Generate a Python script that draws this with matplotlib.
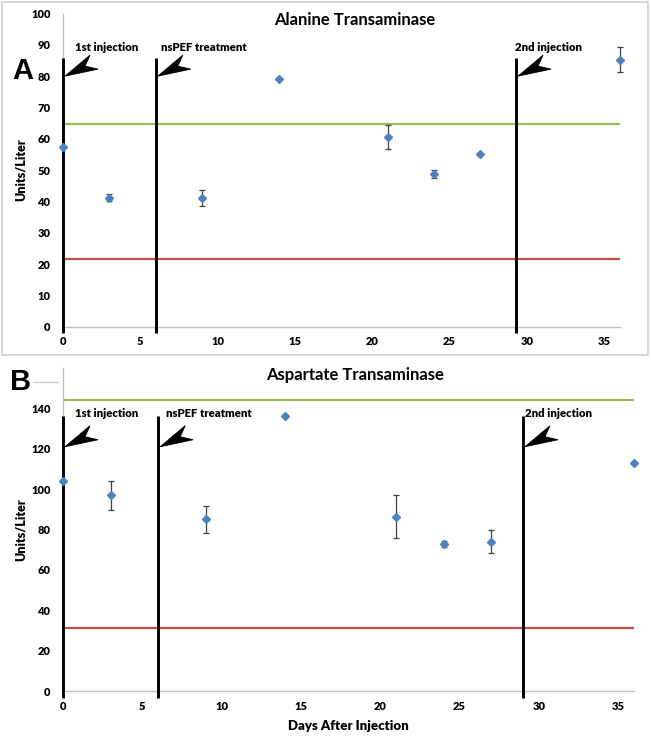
import matplotlib
matplotlib.use("Agg")
import matplotlib.pyplot as plt
import matplotlib.transforms as mtransforms
from matplotlib.patches import Polygon, Rectangle
from matplotlib.lines import Line2D

# ---------------- data ----------------
days = [0, 3, 9, 14, 21, 24, 27, 36]
alt_values = [57.5, 41.2, 41.0, 79.0, 60.5, 48.8, 55.0, 85.2]
alt_errors = [0, 1.2, 2.5, 0, 3.8, 1.2, 0, 4.0]
ast_values = [104, 97, 85, 136, 86.3, 73, 74, 113]
ast_errors = [0, 7.2, 6.5, 0, 10.7, 1.5, 5.6, 0]

alt_range = [21.5, 64.7]   # lower (red), upper (green)
ast_range = [31, 144]

event_labels = ["1st injection", "nsPEF treatment", "2nd injection"]
alt_events = [0, 6, 29.3]
ast_events = [0, 6, 29]

alt_yticks = [0, 10, 20, 30, 40, 50, 60, 70, 80, 90, 100]
ast_yticks = [0, 20, 40, 60, 80, 100, 120, 140]
xticks = [0, 5, 10, 15, 20, 25, 30, 35]

# ---------------- style ----------------
W, H = 651, 736
fig = plt.figure(figsize=(W / 100, H / 100), dpi=100)
TF = "Lato"
BLUE = "#4F81BD"
GREEN = "#9BBB59"
RED = "#C0504D"
AXG = "#BFBFBF"


def px_axes(left, right, top, bottom):
    return [left / W, 1 - bottom / H, (right - left) / W, (bottom - top) / H]


def arrow_head(ax, x, y):
    # concave arrowhead, offsets in pixels relative to the tip
    verts = [(2, 0), (27, 21), (22, 10), (35, 7)]
    tr = mtransforms.Affine2D().scale(fig.dpi / 100.0) + \
        mtransforms.ScaledTranslation(x, y, ax.transData)
    ax.add_patch(Polygon(verts, closed=True, transform=tr, facecolor="black",
                         edgecolor="black", lw=0.6, clip_on=False, zorder=6))


def panel(ax, values, errors, rng, events, ylim, yticks, title,
          line_top, line_bot, tip_y, text_x, text_y, title_y):
    ax.set_xlim(0, 36)
    ax.set_ylim(*ylim)
    ax.set_xticks(xticks)
    ax.set_yticks(yticks)
    for s in ["top", "right"]:
        ax.spines[s].set_visible(False)
    for s in ["left", "bottom"]:
        ax.spines[s].set_color(AXG)
        ax.spines[s].set_linewidth(1.0)
    ax.tick_params(length=0, labelsize=8, pad=7)
    for lab in ax.get_xticklabels() + ax.get_yticklabels():
        lab.set_fontfamily(TF)
        lab.set_fontweight("heavy")
    ax.tick_params(axis="y", pad=9)

    ax.axhline(rng[1], color=GREEN, lw=1.6, zorder=2)
    ax.axhline(rng[0], color=RED, lw=1.6, zorder=2)

    for ev, lab, tx in zip(events, event_labels, text_x):
        ax.plot([ev, ev], [line_bot, line_top], color="black", lw=2.1,
                clip_on=False, zorder=5, solid_capstyle="butt")
        arrow_head(ax, ev, tip_y)
        ax.text(tx, text_y, lab, fontfamily=TF, fontweight="heavy",
                fontsize=8.2, va="center", ha="left", zorder=6)

    ax.errorbar(days, values, yerr=errors, fmt="D", color=BLUE, ms=4.4,
                ecolor="#404040", elinewidth=0.9, capsize=2.2, capthick=0.9,
                clip_on=False, zorder=7)

    ax.set_ylabel("Units/Liter", fontfamily=TF, fontweight="heavy",
                  fontsize=9, labelpad=8)
    fig.text(355 / W, 1 - title_y / H, title, fontfamily=TF,
             fontweight="bold", fontsize=12, ha="center", va="center")


# Panel A
axA = fig.add_axes(px_axes(63, 619.6, 13.5, 326.7))
panel(axA, alt_values, alt_errors, alt_range, alt_events, (0, 100),
      alt_yticks, "Alanine Transaminase", 85.8, -2, 80,
      [0.78, 6.35, 29.25], 89, 20)
axA.yaxis.set_label_coords(-0.065, 0.5)

# Panel B
axB = fig.add_axes(px_axes(63, 634, 368, 691))
panel(axB, ast_values, ast_errors, ast_range, ast_events, (0, 160),
      ast_yticks, "Aspartate Transaminase", 136, -3.5, 121,
      [0.75, 6.5, 29.15], 137.7, 375)
axB.yaxis.set_label_coords(-0.063, 0.5)
fig.text(348 / W, 1 - 726 / H, "Days After Injection", fontfamily=TF,
         fontweight="heavy", fontsize=9.5, ha="center", va="center")

# Panel A border
fig.add_artist(Rectangle((2 / W, 1 - 355 / H), 646 / W, 353 / H,
                         transform=fig.transFigure, fill=False,
                         edgecolor="#D0D0D0", lw=1.2))

# Panel letters
fig.text(23 / W, 1 - 71 / H, "A", fontfamily="Liberation Sans",
         fontweight="bold", fontsize=21, ha="center", va="center")
fig.text(21 / W, 1 - 382 / H, "B", fontfamily="Liberation Sans",
         fontweight="bold", fontsize=21, ha="center", va="center")
fig.add_artist(Line2D([33 / W, 58 / W], [1 - 382 / H, 1 - 382 / H],
                      transform=fig.transFigure, color="#C8C8C8", lw=0.8))

fig.savefig("out.png", dpi=100)
